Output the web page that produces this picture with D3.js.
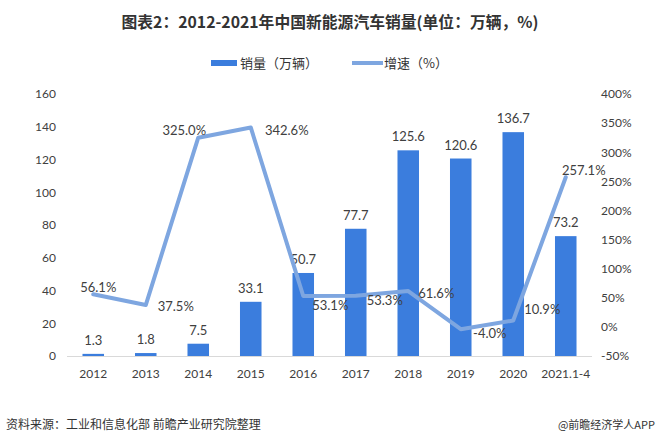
<!DOCTYPE html>
<html><head><meta charset="utf-8">
<script src="https://cdn.jsdelivr.net/npm/d3@7"></script>
<style>body{margin:0;background:#fff}svg{display:block}</style>
</head><body><svg id="c" width="659" height="447"></svg>
<script>
const categories = ["2012","2013","2014","2015","2016","2017","2018","2019","2020","2021.1-4"];
const sales = [1.3,1.8,7.5,33.1,50.7,77.7,125.6,120.6,136.7,73.2];
const growth = [56.1,37.5,325.0,342.6,53.1,53.3,61.6,-4.0,10.9,257.1];
const leftTicks = [0,20,40,60,80,100,120,140,160];
const rightTicks = [-50,0,50,100,150,200,250,300,350,400];
// label offsets for growth labels [dx, dy]
const gOff = [[5,-2],[30,6],[-14,-3],[36,8],[27,14],[29,9],[28,7],[29,9],[29,-7],[18,-2]];

const svg = d3.select("#c");
const cjk = "'Noto Sans CJK SC','Noto Sans',sans-serif";
const num = "Lato,'Open Sans','Noto Sans',sans-serif";
const x = d3.scaleBand().domain(categories).range([67,592]).paddingInner(0.59).paddingOuter(0.295);
const yL = d3.scaleLinear().domain([0,160]).range([356,94]);
const yR = d3.scaleLinear().domain([-50,400]).range([356,94]);

svg.append("text").attr("x",330).attr("y",28).attr("text-anchor","middle")
  .attr("font-family",cjk).attr("font-weight","bold").attr("font-size",15.8).attr("fill","#333")
  .text("图表2：2012-2021年中国新能源汽车销量(单位：万辆，%)");

// legend
svg.append("rect").attr("x",211).attr("y",60).attr("width",26).attr("height",6).attr("fill","#3b7ddd");
svg.append("text").attr("x",240).attr("y",68).attr("font-family",cjk).attr("font-size",13).attr("fill","#333").text("销量（万辆）");
svg.append("line").attr("x1",352).attr("x2",383).attr("y1",63).attr("y2",63).attr("stroke","#7ea6e0").attr("stroke-width",4);
svg.append("text").attr("x",384).attr("y",68).attr("font-family",cjk).attr("font-size",13).attr("fill","#333").text("增速（%）");

// axes
const axL = svg.append("g").attr("transform","translate(60,0)")
  .call(d3.axisLeft(yL).tickValues(leftTicks).tickSize(0).tickPadding(4));
const axR = svg.append("g").attr("transform","translate(601,0)")
  .call(d3.axisRight(yR).tickValues(rightTicks).tickSize(0).tickPadding(0).tickFormat(d=>d+"%"));
[axL,axR].forEach(a=>{a.select(".domain").remove();a.selectAll("text").attr("font-family",num).attr("font-size",12).attr("fill","#404040");});

svg.append("line").attr("x1",67).attr("x2",592).attr("y1",356.5).attr("y2",356.5).attr("stroke","#d9d9d9");
const axX = svg.append("g").attr("transform","translate(0,357)").call(d3.axisBottom(x).tickSize(0).tickPadding(12));
axX.select(".domain").remove();
axX.selectAll("text").attr("font-family",num).attr("font-size",12).attr("fill","#404040");

// bars
svg.selectAll(".bar").data(sales).join("rect")
  .attr("x",(d,i)=>x(categories[i])).attr("width",x.bandwidth())
  .attr("y",d=>yL(d)).attr("height",d=>yL(0)-yL(d)).attr("fill","#3b7ddd");
svg.selectAll(".bl").data(sales).join("text")
  .attr("x",(d,i)=>x(categories[i])+x.bandwidth()/2).attr("y",d=>yL(d)-9)
  .attr("text-anchor","middle").attr("font-family",num).attr("font-size",13).attr("fill","#404040")
  .text(d=>d.toFixed(1));

// line
const line = d3.line().x((d,i)=>x(categories[i])+x.bandwidth()/2).y(d=>yR(d));
svg.append("path").datum(growth).attr("d",line).attr("fill","none")
  .attr("stroke","#7ea6e0").attr("stroke-width",4).attr("stroke-linejoin","round").attr("stroke-linecap","round");
svg.selectAll(".gl").data(growth).join("text")
  .attr("x",(d,i)=>x(categories[i])+x.bandwidth()/2+gOff[i][0]).attr("y",(d,i)=>yR(d)+gOff[i][1])
  .attr("text-anchor","middle").attr("font-family",num).attr("font-size",13).attr("fill","#404040")
  .text(d=>d.toFixed(1)+"%");

// footer
svg.append("text").attr("x",6).attr("y",429).attr("font-family",cjk).attr("font-size",12).attr("fill","#333")
  .text("资料来源：工业和信息化部 前瞻产业研究院整理");
svg.append("text").attr("x",655).attr("y",429).attr("text-anchor","end").attr("font-family",cjk).attr("font-size",11).attr("fill","#333")
  .text("@前瞻经济学人APP");
</script></body></html>
